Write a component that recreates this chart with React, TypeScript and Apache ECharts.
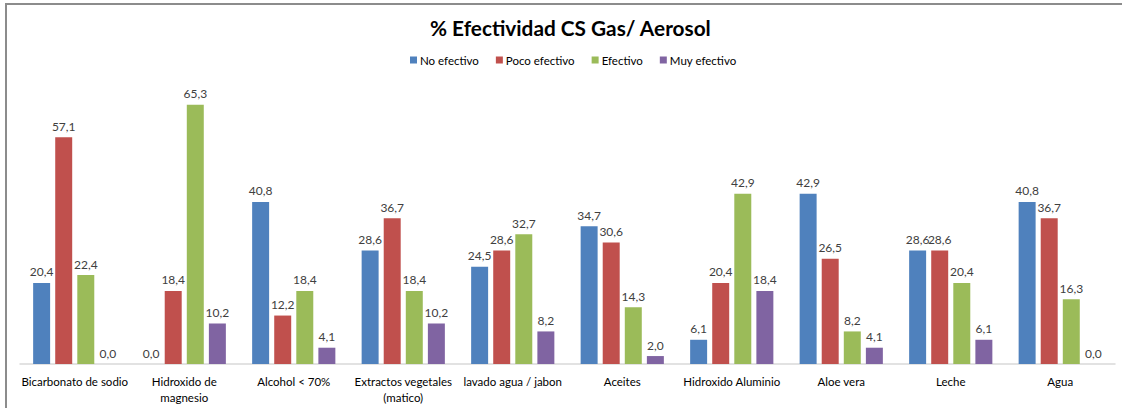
import React, { useEffect, useRef } from "react";
import * as echarts from "echarts";

const categories = [
  "Bicarbonato de sodio",
  "Hidroxido de\nmagnesio",
  "Alcohol < 70%",
  "Extractos vegetales\n(matico)",
  "lavado agua / jabon",
  "Aceites",
  "Hidroxido Aluminio",
  "Aloe vera",
  "Leche",
  "Agua",
];
const noEfectivo = [20.4, 0.0, 40.8, 28.6, 24.5, 34.7, 6.1, 42.9, 28.6, 40.8];
const pocoEfectivo = [57.1, 18.4, 12.2, 36.7, 28.6, 30.6, 20.4, 26.5, 28.6, 36.7];
const efectivo = [22.4, 65.3, 18.4, 18.4, 32.7, 14.3, 42.9, 8.2, 20.4, 16.3];
const muyEfectivo = [0.0, 10.2, 4.1, 10.2, 8.2, 2.0, 18.4, 4.1, 6.1, 0.0];
const seriesNames = ["No efectivo", "Poco efectivo", "Efectivo", "Muy efectivo"];
const colors = ["#4F81BD", "#C0504D", "#9BBB59", "#8064A2"];

const FONT = "Lato, 'Open Sans', sans-serif";

export default function App() {
  const ref = useRef<HTMLDivElement>(null);
  useEffect(() => {
    document.body.style.margin = "0";
    if (!ref.current) return;
    const chart = echarts.init(ref.current, null, { renderer: "svg" });
    const data = [noEfectivo, pocoEfectivo, efectivo, muyEfectivo];
    chart.setOption({
      animation: false,
      textStyle: { fontFamily: FONT },
      title: {
        text: "% Efectividad CS Gas/ Aerosol",
        left: 425,
        top: 12,
        textStyle: { fontSize: 20.8, fontWeight: "bold", color: "#000", fontFamily: FONT },
      },
      legend: {
        top: 49,
        left: 405,
        itemWidth: 7,
        itemHeight: 7,
        itemGap: 17,
        icon: "rect",
        textStyle: { fontSize: 11.5, color: "#000", fontFamily: FONT, padding: [0, 0, 0, -2] },
        data: seriesNames,
      },
      grid: { left: 20, right: 7, top: 86, bottom: 44, containLabel: false },
      xAxis: {
        type: "category",
        data: categories,
        axisLine: { lineStyle: { color: "#D9D9D9", width: 1.5 } },
        axisTick: { show: false },
        axisLabel: {
          interval: 0,
          fontSize: 11.5,
          color: "#000",
          fontFamily: FONT,
          margin: 9,
          lineHeight: 16,
        },
      },
      yAxis: {
        type: "value",
        min: 0,
        max: 70,
        show: false,
        splitLine: { show: false },
      },
      series: data.map((d, i) => ({
        name: seriesNames[i],
        type: "bar",
        data: d,
        barGap: "30%",
        barCategoryGap: "24%",
        itemStyle: { color: colors[i] },
        label: {
          show: true,
          position: "top",
          distance: 5,
          fontSize: 12,
          color: "#404040",
          fontFamily: FONT,
          formatter: (p: any) => Number(p.value).toFixed(1).replace(".", ","),
        },
      })),
    });
    return () => chart.dispose();
  }, []);
  return (
    <div style={{ position: "relative", width: 1122, height: 408, background: "#fff", overflow: "hidden" }}>
      <div
        style={{
          position: "absolute",
          left: 5,
          top: 3,
          width: 1130,
          height: 420,
          border: "2px solid #8C8C8C",
          boxSizing: "border-box",
        }}
      />
      <div ref={ref} style={{ position: "absolute", left: 0, top: 0, width: 1122, height: 408 }} />
    </div>
  );
}
